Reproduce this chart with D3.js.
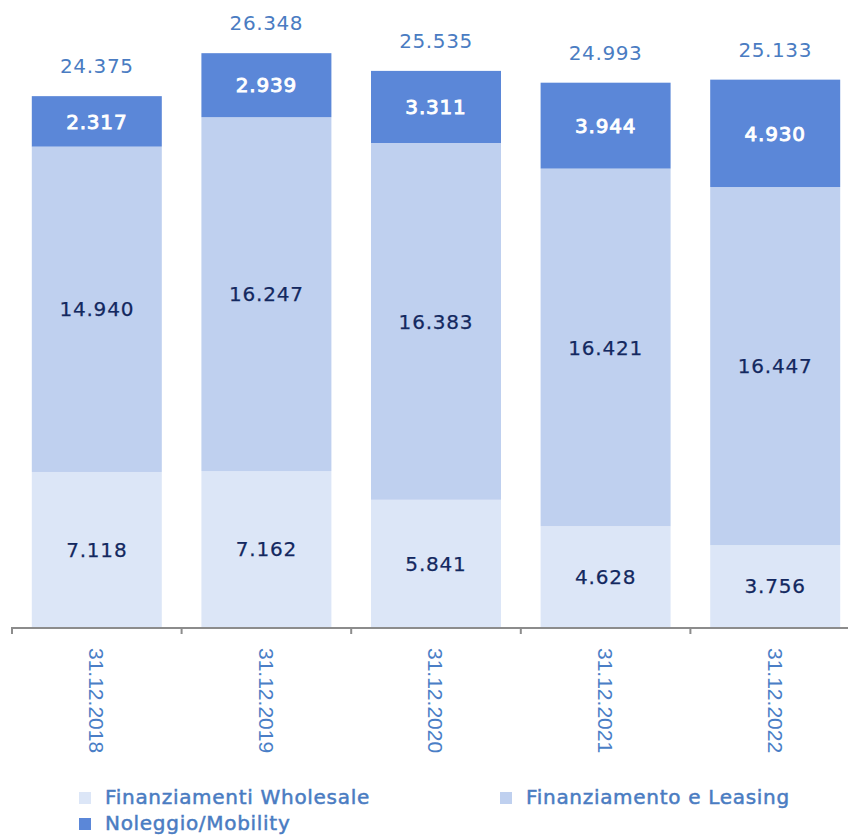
<!DOCTYPE html>
<html>
<head>
<meta charset="utf-8">
<script src="https://cdn.jsdelivr.net/npm/d3@7"></script>
<style>
  html, body { margin: 0; padding: 0; background: #ffffff; }
  svg { display: block; }
  text { font-family: "DejaVu Sans", sans-serif; }
  text.cat { font-family: "Liberation Sans", Arial, sans-serif; }
</style>
</head>
<body>
<svg id="chart" width="848" height="835"></svg>
<script>
// Year-end dates (x axis categories)
const categories = ["31.12.2018", "31.12.2019", "31.12.2020", "31.12.2021", "31.12.2022"];

// Series values (thousands, Italian number format in labels)
const wholesale = [7118, 7162, 5841, 4628, 3756];
const leasing   = [14940, 16247, 16383, 16421, 16447];
const mobility  = [2317, 2939, 3311, 3944, 4930];
const totals    = [24375, 26348, 25535, 24993, 25133];

// Series names, in stacking order
const seriesNames = ["Finanziamenti Wholesale", "Finanziamento e Leasing", "Noleggio/Mobility"];
const seriesColors = ["#dce6f7", "#bfd0ef", "#5b87d8"];
const labelColors  = ["#13285f", "#13285f", "#ffffff"];

const rows = categories.map((c, i) => ({
  cat: c,
  "Finanziamenti Wholesale": wholesale[i],
  "Finanziamento e Leasing": leasing[i],
  "Noleggio/Mobility": mobility[i],
  total: totals[i]
}));

const svg = d3.select("#chart");
const baseY = 627;

const x = d3.scaleBand()
  .domain(categories)
  .range([12, 860])
  .paddingInner(0.2335)
  .paddingOuter(0.11675);

const y = d3.scaleLinear()
  .domain([0, 28790])
  .range([baseY, 0]);

const fmt = v => d3.format(",")(v).replace(/,/g, ".");

const stack = d3.stack().keys(seriesNames);
const layers = stack(rows);

const layerG = svg.append("g").selectAll("g")
  .data(layers)
  .join("g")
  .attr("fill", (d, i) => seriesColors[i]);

layerG.selectAll("rect")
  .data(d => d)
  .join("rect")
  .attr("x", d => x(d.data.cat))
  .attr("width", x.bandwidth())
  .attr("y", d => y(d[1]))
  .attr("height", d => y(d[0]) - y(d[1]));

// Value labels centred inside each segment
layers.forEach((layer, li) => {
  svg.append("g").selectAll("text")
    .data(layer)
    .join("text")
    .attr("x", d => x(d.data.cat) + x.bandwidth() / 2)
    .attr("y", d => (y(d[0]) + y(d[1])) / 2)
    .attr("dy", "0.36em")
    .attr("text-anchor", "middle")
    .attr("fill", labelColors[li])
    .attr("stroke", labelColors[li])
    .attr("stroke-width", li === 2 ? 0.9 : 0.25)
    .attr("font-size", 20)
    .attr("letter-spacing", 0.8)
    .text(d => fmt(d[1] - d[0]));
});

// Totals above each bar
svg.append("g").selectAll("text")
  .data(rows)
  .join("text")
  .attr("x", d => x(d.cat) + x.bandwidth() / 2)
  .attr("y", d => y(d.total) - 23)
  .attr("text-anchor", "middle")
  .attr("fill", "#4a7cc2")
  .attr("font-size", 20)
  .attr("letter-spacing", 0.6)
  .text(d => fmt(d.total));

// X axis: baseline with ticks at band boundaries
const axisG = svg.append("g");
const gap = (x.step() - x.bandwidth()) / 2;
axisG.append("line")
  .attr("x1", x.range()[0]).attr("x2", x.range()[1])
  .attr("y1", baseY + 1).attr("y2", baseY + 1)
  .attr("stroke", "#8c8c8c").attr("stroke-width", 2.2);
const bounds = categories.map(c => x(c) - gap).concat([x(categories[categories.length - 1]) + x.bandwidth() + gap]);
axisG.selectAll("line.tick")
  .data(bounds)
  .join("line")
  .attr("class", "tick")
  .attr("x1", d => d).attr("x2", d => d)
  .attr("y1", baseY).attr("y2", baseY + 7)
  .attr("stroke", "#8c8c8c").attr("stroke-width", 2);

// Rotated category labels
axisG.selectAll("text.cat")
  .data(categories)
  .join("text")
  .attr("class", "cat")
  .attr("transform", d => `translate(${x(d) + x.bandwidth() / 2},648) rotate(90)`)
  .attr("dy", "0.36em")
  .attr("text-anchor", "start")
  .attr("fill", "#4a7ec6")
  .attr("font-size", 21)
  .text(d => d);

// Legend
const legendPos = [[79, 797], [500, 797], [79, 823]];
const legend = svg.append("g").selectAll("g")
  .data(seriesNames)
  .join("g")
  .attr("transform", (d, i) => `translate(${legendPos[i][0]},${legendPos[i][1]})`);
legend.append("rect")
  .attr("x", 0).attr("y", -5)
  .attr("width", 12).attr("height", 12)
  .attr("fill", (d, i) => seriesColors[i]);
legend.append("text")
  .attr("x", 26).attr("y", 0)
  .attr("dy", "0.36em")
  .attr("fill", "#4a7cc2")
  .attr("stroke", "#4a7cc2")
  .attr("stroke-width", 0.5)
  .attr("font-size", 20)
  .attr("letter-spacing", 0.7)
  .text(d => d);
</script>
</body>
</html>
